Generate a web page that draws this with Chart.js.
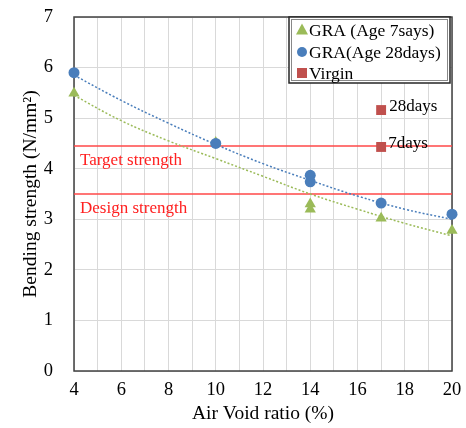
<!DOCTYPE html>
<html>
<head>
<meta charset="utf-8">
<script src="https://cdn.jsdelivr.net/npm/chart.js@4"></script>
<style>
  html, body { margin: 0; padding: 0; background: #fff; }
  #wrap { width: 466px; height: 428px; }
</style>
</head>
<body>
<div id="wrap"><canvas id="c" width="466" height="428"></canvas></div>
<script>
// Bending strength against air void ratio
const voids7 = [4, 10, 14, 14, 17, 20];
const gra7 = [5.49, 4.52, 3.3, 3.2, 3.02, 2.78];
const voids28 = [4, 10, 14, 14, 17, 20];
const gra28 = [5.9, 4.5, 3.87, 3.74, 3.32, 3.1];
const virginVoids = [17, 17];
const virgin = [5.16, 4.43];
const virginLabels = ['28days', '7days'];

// Trend curves
const trendX = [4, 6, 8, 10, 12, 14, 16, 18, 20];
const trend7 = [5.45, 4.95, 4.55, 4.2, 3.85, 3.5, 3.2, 2.92, 2.67];
const trend28 = [5.85, 5.35, 4.9, 4.48, 4.1, 3.77, 3.46, 3.2, 3.0];

// Reference strengths
const targetStrength = 4.45;
const designStrength = 3.5;
const strengthLabels = ['Target strength', 'Design strength'];

const legendLabels = ['GRA (Age 7says)', 'GRA(Age 28days)', 'Virgin'];
const xTitle = 'Air Void ratio (%)';
const yTitle = 'Bending strength (N/mm\u00B2)';

const BLUE = '#4A7EBB';
const GREEN = '#9BBB59';
const RED = '#C0504D';
const LINE_RED = '#FF4747';
const SERIF = '"Liberation Serif", "Times New Roman", serif';

const pts = (xs, ys) => xs.map((x, i) => ({ x, y: ys[i] }));

const textPlugin = {
  id: 'chartTexts',
  beforeDatasetsDraw(chart) {
    const { ctx, chartArea: a } = chart;
    ctx.save();
    ctx.strokeStyle = '#404040';
    ctx.lineWidth = 1.5;
    ctx.strokeRect(a.left, a.top, a.right - a.left, a.bottom - a.top);
    ctx.restore();
  },
  afterDatasetsDraw(chart) {
    const { ctx, scales: { x, y } } = chart;
    ctx.save();
    ctx.font = '17px ' + SERIF;
    ctx.textBaseline = 'middle';
    ctx.textAlign = 'left';
    // strength labels
    ctx.fillStyle = '#FF2020';
    ctx.fillText(strengthLabels[0], x.getPixelForValue(4) + 6, y.getPixelForValue(targetStrength) + 15);
    ctx.fillText(strengthLabels[1], x.getPixelForValue(4) + 6, y.getPixelForValue(designStrength) + 15);
    // virgin labels
    ctx.fillStyle = '#000';
    ctx.fillText(virginLabels[0], x.getPixelForValue(virginVoids[0]) + 8, y.getPixelForValue(virgin[0]) - 4);
    ctx.fillText(virginLabels[1], x.getPixelForValue(virginVoids[1]) + 7, y.getPixelForValue(virgin[1]) - 3);

    // legend box
    const lx = 289, ly = 17, lw = 161, lh = 66;
    ctx.fillStyle = '#fff';
    ctx.fillRect(lx, ly, lw, lh);
    ctx.strokeStyle = '#262626';
    ctx.lineWidth = 1.5;
    ctx.strokeRect(lx, ly, lw, lh);
    ctx.lineWidth = 1;
    ctx.strokeStyle = '#888';
    ctx.strokeRect(lx + 2.5, ly + 2.5, lw - 5, lh - 5);

    const rows = [30, 52, 73];
    const mx = 302;
    // triangle
    ctx.fillStyle = GREEN;
    ctx.beginPath();
    ctx.moveTo(mx, rows[0] - 6.5);
    ctx.lineTo(mx + 6, rows[0] + 4.5);
    ctx.lineTo(mx - 6, rows[0] + 4.5);
    ctx.closePath();
    ctx.fill();
    // circle
    ctx.fillStyle = BLUE;
    ctx.beginPath();
    ctx.arc(mx, rows[1], 5, 0, Math.PI * 2);
    ctx.fill();
    // square
    ctx.fillStyle = RED;
    ctx.fillRect(mx - 5, rows[2] - 5, 10, 10);

    ctx.font = '17.5px ' + SERIF;
    ctx.fillStyle = '#000';
    legendLabels.forEach((t, i) => ctx.fillText(t, 309, rows[i] + 1));
    ctx.restore();
  }
};

new Chart(document.getElementById('c'), {
  type: 'scatter',
  data: {
    datasets: [
      {
        data: pts([4, 20], [targetStrength, targetStrength]),
        showLine: true, borderColor: LINE_RED, borderWidth: 1.5,
        pointRadius: 0, order: 5
      },
      {
        data: pts([4, 20], [designStrength, designStrength]),
        showLine: true, borderColor: LINE_RED, borderWidth: 1.5,
        pointRadius: 0, order: 5
      },
      {
        data: pts(trendX, trend7),
        showLine: true, borderColor: GREEN, borderWidth: 1.5, borderDash: [2, 2],
        tension: 0.4, pointRadius: 0, order: 4
      },
      {
        data: pts(trendX, trend28),
        showLine: true, borderColor: BLUE, borderWidth: 1.5, borderDash: [2, 2],
        tension: 0.4, pointRadius: 0, order: 4
      },
      {
        label: legendLabels[0],
        data: pts(voids7, gra7),
        pointStyle: 'triangle', pointRadius: 6.5, pointHoverRadius: 6.5,
        backgroundColor: GREEN, borderColor: GREEN, borderWidth: 0, order: 3, clip: false
      },
      {
        label: legendLabels[1],
        data: pts(voids28, gra28),
        pointStyle: 'circle', pointRadius: 5.5, pointHoverRadius: 5.5,
        backgroundColor: BLUE, borderColor: BLUE, borderWidth: 0, order: 2, clip: false
      },
      {
        label: legendLabels[2],
        data: pts(virginVoids, virgin),
        pointStyle: 'rect', pointRadius: 7, pointHoverRadius: 7,
        backgroundColor: RED, borderColor: RED, borderWidth: 0, order: 1, clip: false
      }
    ]
  },
  options: {
    responsive: false,
    animation: false,
    layout: { padding: { left: 0, right: 14, top: 17, bottom: 0 } },
    plugins: { legend: { display: false }, tooltip: { enabled: false } },
    scales: {
      x: {
        type: 'linear', min: 4, max: 20,
        afterFit(s) { s.height = 57; s.paddingLeft = 0; s.paddingRight = 0; },
        grid: { color: '#D9D9D9', drawTicks: false, lineWidth: 1 },
        border: { display: false },
        ticks: {
          stepSize: 1, padding: 8, color: '#000', autoSkip: false,
          maxRotation: 0, minRotation: 0,
          font: { family: SERIF, size: 18.5 },
          callback: v => (v % 2 === 0 ? String(v) : '')
        },
        title: {
          display: true, text: xTitle, color: '#000',
          font: { family: SERIF, size: 19.5 }, padding: { top: 0, bottom: 2 }
        }
      },
      y: {
        type: 'linear', min: 0, max: 7,
        afterFit(s) { s.width = 74; s.paddingTop = 0; s.paddingBottom = 0; },
        grid: { color: '#D9D9D9', drawTicks: false, lineWidth: 1 },
        border: { display: false },
        ticks: {
          stepSize: 1, padding: 21, color: '#000',
          font: { family: SERIF, size: 18.5 }
        },
        title: {
          display: true, text: yTitle, color: '#000',
          font: { family: SERIF, size: 19.5 }, padding: { top: 19, bottom: 0 }
        }
      }
    }
  },
  plugins: [textPlugin]
});
</script>
</body>
</html>
